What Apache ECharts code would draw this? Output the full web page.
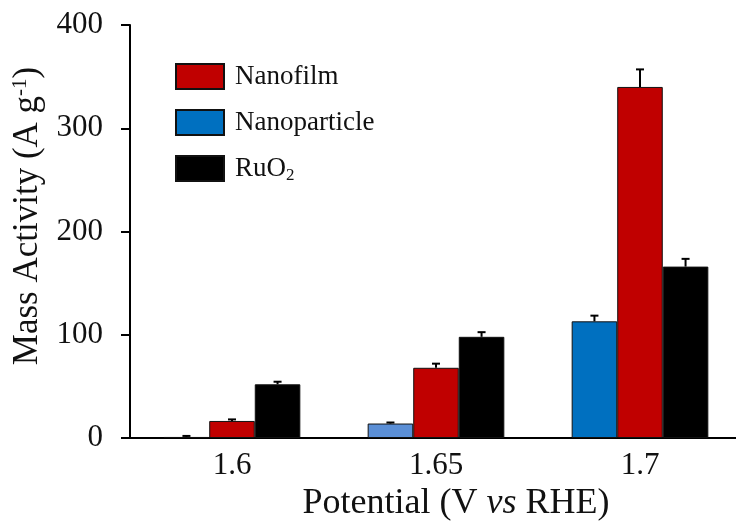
<!DOCTYPE html>
<html>
<head>
<meta charset="utf-8">
<script src="https://cdn.jsdelivr.net/npm/echarts@6/dist/echarts.min.js"></script>
<style>
html,body{margin:0;padding:0;background:#fff;}
#chart{width:736px;height:522px;}
</style>
</head>
<body>
<div id="chart"></div>
<script>
// data
var potentials = ['1.6', '1.65', '1.7'];
var nanoparticle = [1, 14, 113];
var nanofilm = [16.5, 68, 340];
var ruo2 = [52, 98, 166];
var nanoparticleErr = [1, 1, 5.5];
var nanofilmErr = [1.5, 4, 17];
var ruo2Err = [2.5, 4.5, 7.5];
var yTicks = [0, 100, 200, 300, 400];

var font = "'Liberation Serif', 'Times New Roman', serif";
var gapPct = 0.33;

var myChart = echarts.init(document.getElementById('chart'));

function errData(vals, errs, idx) {
  return vals.map(function (v, i) { return [i, v, errs[i], idx]; });
}

function renderErr(params, api) {
  var cat = api.value(0);
  var v = api.value(1);
  var e = api.value(2);
  var idx = api.value(3);
  var catW = api.size([1, 0])[0];
  var barW = catW * (1 - gapPct) / 3;
  var base = api.coord([cat, v]);
  var top = api.coord([cat, v + e]);
  var x = base[0] - barW * 1.5 + barW * (idx + 0.5);
  var cap = 4;
  return {
    type: 'group',
    children: [{
      type: 'line',
      shape: {x1: x, y1: base[1], x2: x, y2: top[1]},
      style: {stroke: '#000', lineWidth: 2}
    }, {
      type: 'line',
      shape: {x1: x - cap, y1: top[1], x2: x + cap, y2: top[1]},
      style: {stroke: '#000', lineWidth: 2}
    }]
  };
}

var errSeries = function (vals, errs, idx) {
  return {
    type: 'custom',
    renderItem: renderErr,
    data: errData(vals, errs, idx),
    encode: {x: 0, y: 1},
    z: 5,
    silent: true
  };
};

var option = {
  animation: false,
  textStyle: {fontFamily: font, color: '#111'},
  legend: {
    data: [
      {name: 'Nanofilm', itemStyle: {color: '#C00000'}},
      {name: 'Nanoparticle', itemStyle: {color: '#0070C0'}},
      {name: 'RuO2', itemStyle: {color: '#000'}}
    ],
    icon: 'rect',
    orient: 'vertical',
    left: 170,
    top: 58,
    itemWidth: 48,
    itemHeight: 25,
    itemGap: 19,
    textStyle: {
      fontFamily: font,
      fontSize: 27,
      color: '#111',
      padding: [0, 0, 0, 6],
      rich: {
        sub: {fontFamily: font, fontSize: 17, color: '#111', padding: [14, 0, 0, 0]}
      }
    },
    formatter: function (name) {
      return name === 'RuO2' ? 'RuO{sub|2}' : name;
    }
  },
  grid: {
    left: 130,
    top: 25,
    width: 612,
    bottom: 84,
    outerBoundsMode: 'none'
  },
  xAxis: {
    type: 'category',
    data: potentials,
    name: 'Potential (V {it|vs} RHE)',
    nameLocation: 'middle',
    nameGap: 45,
    nameTextStyle: {
      fontFamily: font,
      fontSize: 36,
      color: '#111',
      padding: [0, 0, 0, 40],
      rich: {
        it: {fontFamily: font, fontSize: 36, fontStyle: 'italic', color: '#111'}
      }
    },
    axisLine: {lineStyle: {color: '#000', width: 2}},
    axisTick: {length: 9, lineStyle: {color: '#000', width: 2}},
    axisLabel: {fontFamily: font, fontSize: 31, color: '#111', margin: 12}
  },
  yAxis: {
    type: 'value',
    min: yTicks[0],
    max: yTicks[yTicks.length - 1],
    interval: 100,
    name: 'Mass Activity (A g{sup|-1})',
    nameLocation: 'middle',
    nameGap: 82,
    nameTextStyle: {
      fontFamily: font,
      fontSize: 35,
      color: '#111',
      padding: [0, 0, 0, 31],
      rich: {
        sup: {fontFamily: font, fontSize: 21, color: '#111', padding: [0, 0, 16, 0]}
      }
    },
    splitLine: {show: false},
    axisLine: {show: true, lineStyle: {color: '#000', width: 2}},
    axisTick: {show: true, length: 9, lineStyle: {color: '#000', width: 2}},
    axisLabel: {fontFamily: font, fontSize: 31, color: '#111', margin: 27}
  },
  series: [{
    name: 'Nanoparticle',
    type: 'bar',
    barCategoryGap: '33%',
    barGap: 0,
    itemStyle: {
      color: function (p) { return p.dataIndex === 1 ? '#5B8FD6' : '#0070C0'; },
      borderColor: '#111',
      borderWidth: 1
    },
    data: nanoparticle
  }, {
    name: 'Nanofilm',
    type: 'bar',
    barCategoryGap: '33%',
    barGap: 0,
    itemStyle: {color: '#C00000', borderColor: '#111', borderWidth: 1},
    data: nanofilm
  }, {
    name: 'RuO2',
    type: 'bar',
    barCategoryGap: '33%',
    barGap: 0,
    itemStyle: {color: '#000', borderColor: '#111', borderWidth: 1},
    data: ruo2
  },
  errSeries(nanoparticle, nanoparticleErr, 0),
  errSeries(nanofilm, nanofilmErr, 1),
  errSeries(ruo2, ruo2Err, 2)
  ]
};

myChart.setOption(option);
</script>
</body>
</html>
